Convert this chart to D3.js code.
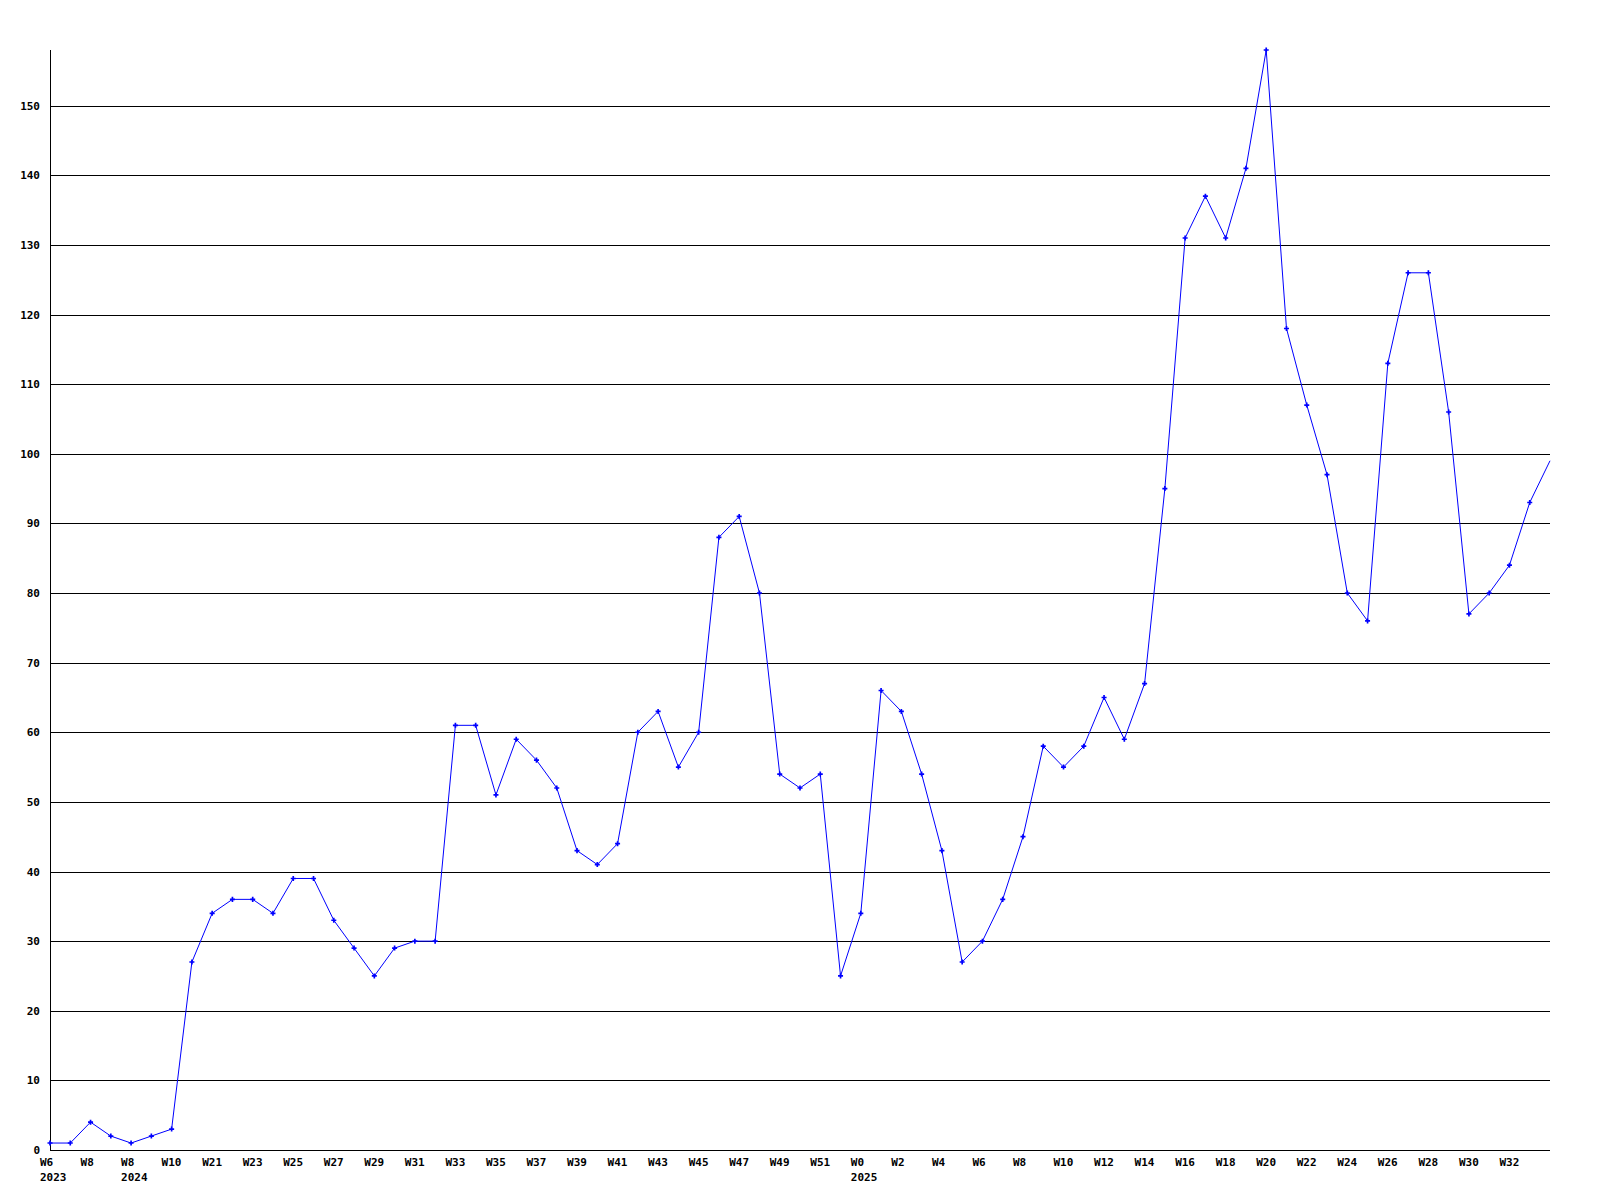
<!DOCTYPE html>
<html>
<head>
<meta charset="utf-8">
<script src="https://cdn.jsdelivr.net/npm/d3@7"></script>
<style>
  html, body { margin: 0; padding: 0; background: #fff; }
  svg { display: block; }
  text { font-family: "DejaVu Sans Mono", "Liberation Mono", monospace; font-weight: bold; font-size: 11px; fill: #000; }
</style>
</head>
<body>
<svg id="chart" width="1600" height="1200"></svg>
<script>
// Values per sampled week (index order), last one runs to the right edge
const values = [1, 1, 4, 2, 1, 2, 3, 27, 34, 36, 36, 34, 39, 39, 33, 29, 25, 29, 30, 30,
  61, 61, 51, 59, 56, 52, 43, 41, 44, 60, 63, 55, 60, 88, 91, 80, 54, 52, 54, 25,
  34, 66, 63, 54, 43, 27, 30, 36, 45, 58, 55, 58, 65, 59, 67, 95, 131, 137, 131, 141,
  158, 118, 107, 97, 80, 76, 113, 126, 126, 106, 77, 80, 84, 93, 99];
// Tick labels, shown at every second point
const weekLabels = ["W6", "W8", "W8", "W10", "W21", "W23", "W25", "W27", "W29", "W31",
  "W33", "W35", "W37", "W39", "W41", "W43", "W45", "W47", "W49", "W51",
  "W0", "W2", "W4", "W6", "W8", "W10", "W12", "W14", "W16", "W18",
  "W20", "W22", "W24", "W26", "W28", "W30", "W32"];
const yearLabels = ["2023", "2024", "2025"];
const yearLabelIndex = [0, 4, 40];
const yTicks = [0, 10, 20, 30, 40, 50, 60, 70, 80, 90, 100, 110, 120, 130, 140, 150];
const yMax = 158;

(function () {
const svg = d3.select("#chart");
const pLeft = 50, pRight = 1550, pTop = 50, pBottom = 1150;

const x = d3.scaleLinear().domain([0, values.length - 1]).range([pLeft, pRight]);
const y = d3.scaleLinear().domain([0, yMax]).range([pBottom, pTop]);

// gridlines
svg.append("g").selectAll("line").data(yTicks).join("line")
  .attr("x1", pLeft).attr("x2", pRight)
  .attr("y1", d => Math.round(y(d)) + 0.5).attr("y2", d => Math.round(y(d)) + 0.5)
  .attr("stroke", "#000").attr("stroke-width", 1).attr("shape-rendering", "crispEdges");

// y axis line
svg.append("line")
  .attr("x1", pLeft + 0.5).attr("x2", pLeft + 0.5)
  .attr("y1", pTop).attr("y2", pBottom)
  .attr("stroke", "#000").attr("stroke-width", 1).attr("shape-rendering", "crispEdges");

// y labels
svg.append("g").selectAll("text").data(yTicks).join("text")
  .attr("x", 40).attr("y", d => Math.round(y(d)) + 4)
  .attr("text-anchor", "end")
  .text(d => d);

// x labels
svg.append("g").selectAll("text").data(weekLabels).join("text")
  .attr("x", (d, i) => x(i * 2) - 10).attr("y", 1166)
  .text(d => d);
svg.append("g").selectAll("text").data(yearLabels).join("text")
  .attr("x", (d, i) => x(yearLabelIndex[i]) - 10).attr("y", 1181)
  .text(d => d);

// line
const line = d3.line().x((d, i) => x(i)).y(d => y(d));
svg.append("path").datum(values)
  .attr("d", line)
  .attr("fill", "none").attr("stroke", "#0000ff").attr("stroke-width", 1);

// markers (not on the final edge point)
const sym = d3.symbol().type(d3.symbolCross).size(14);
svg.append("g").selectAll("path").data(values.slice(0, values.length - 1)).join("path")
  .attr("transform", (d, i) => `translate(${x(i)},${y(d)})`)
  .attr("d", sym)
  .attr("fill", "#0000ff");
})();
</script>
</body>
</html>
